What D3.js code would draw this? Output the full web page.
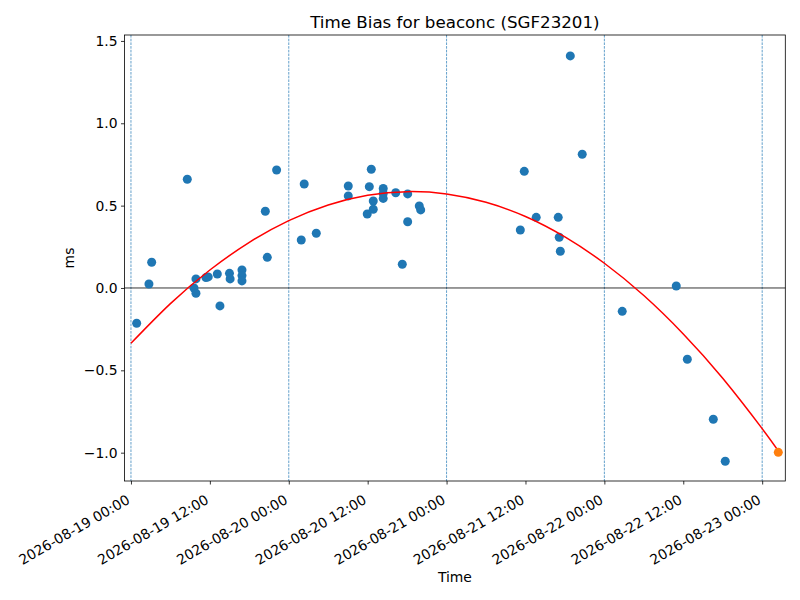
<!DOCTYPE html>
<html>
<head>
<meta charset="utf-8">
<script src="https://cdn.jsdelivr.net/npm/d3@7"></script>
<style>
  body { margin: 0; background: #fff; }
  text { font-family: "DejaVu Sans", sans-serif; }
</style>
</head>
<body>
<svg id="chart" width="800" height="600"></svg>
<script>
// measured offsets (ms) against time, UTC
var times = [
  "2026-08-19 00:52", "2026-08-19 02:44", "2026-08-19 03:09", "2026-08-19 08:34",
  "2026-08-19 09:53", "2026-08-19 09:35", "2026-08-19 09:53", "2026-08-19 11:24",
  "2026-08-19 11:45", "2026-08-19 13:08", "2026-08-19 13:32", "2026-08-19 14:59",
  "2026-08-19 15:05", "2026-08-19 16:53", "2026-08-19 16:53", "2026-08-19 16:53",
  "2026-08-19 20:26", "2026-08-19 20:44", "2026-08-19 22:09", "2026-08-20 01:54",
  "2026-08-20 02:21", "2026-08-20 04:11", "2026-08-20 09:03", "2026-08-20 09:03",
  "2026-08-20 11:56", "2026-08-20 12:15", "2026-08-20 12:33", "2026-08-20 12:51",
  "2026-08-20 12:51", "2026-08-20 14:22", "2026-08-20 14:22", "2026-08-20 14:22",
  "2026-08-20 16:16", "2026-08-20 17:16", "2026-08-20 18:05", "2026-08-20 18:05",
  "2026-08-20 19:51", "2026-08-20 20:04", "2026-08-21 11:13", "2026-08-21 11:49",
  "2026-08-21 13:38", "2026-08-21 16:59", "2026-08-21 17:08", "2026-08-21 17:18",
  "2026-08-21 18:49", "2026-08-21 20:38", "2026-08-22 02:43", "2026-08-22 10:56",
  "2026-08-22 12:37", "2026-08-22 16:34", "2026-08-22 18:23"
];
var bias = [
  -0.214, 0.024, 0.156, 0.660,
  0.055, 0.000, -0.032, 0.063,
  0.067, 0.085, -0.109, 0.089,
  0.055, 0.109, 0.075, 0.043,
  0.466, 0.186, 0.716, 0.291,
  0.631, 0.332, 0.619, 0.559,
  0.449, 0.615, 0.721, 0.528,
  0.478, 0.604, 0.574, 0.544,
  0.578, 0.144, 0.571, 0.402,
  0.498, 0.474, 0.352, 0.708,
  0.429, 0.429, 0.308, 0.223,
  1.409, 0.812, -0.142, 0.012,
  -0.433, -0.797, -1.052
];

// latest point (orange)
var lastTime = "2026-08-23 02:27";
var lastBias = -0.998;

// fitted curve
var fitTimes = [
  "2026-08-19 00:00", "2026-08-19 06:00", "2026-08-19 12:00", "2026-08-19 18:00",
  "2026-08-20 00:00", "2026-08-20 06:00", "2026-08-20 12:00", "2026-08-20 18:00",
  "2026-08-21 00:00", "2026-08-21 06:00", "2026-08-21 12:00", "2026-08-21 18:00",
  "2026-08-22 00:00", "2026-08-22 06:00", "2026-08-22 12:00", "2026-08-22 18:00",
  "2026-08-23 00:00", "2026-08-23 02:27"
];
var fitBias = [
  -0.336, -0.095, 0.109, 0.277,
  0.409, 0.504, 0.563, 0.585,
  0.571, 0.520, 0.434, 0.310,
  0.150, -0.046, -0.279, -0.548,
  -0.854, -0.989
];

var dayLines = ["2026-08-19 00:00", "2026-08-20 00:00", "2026-08-21 00:00", "2026-08-22 00:00", "2026-08-23 00:00"];
var yTicks = [-1.0, -0.5, 0.0, 0.5, 1.0, 1.5];
var xDomain = ["2026-08-18 23:01", "2026-08-23 03:31"];
var yDomain = [-1.172, 1.536];

var parse = d3.utcParse("%Y-%m-%d %H:%M");
var fmt = d3.utcFormat("%Y-%m-%d %H:%M");

var margins = {top: 35, right: 14.7, bottom: 119, left: 124.5},
    W = 800, H = 600,
    width = W - margins.left - margins.right,
    height = H - margins.top - margins.bottom;

var svg = d3.select('#chart');

var xScale = d3.scaleUtc()
    .domain(xDomain.map(parse))
    .range([margins.left, margins.left + width]);

var yScale = d3.scaleLinear()
    .domain(yDomain)
    .range([margins.top + height, margins.top]);

// vertical dashed lines at midnight
svg.append('g').selectAll('line')
    .data(dayLines.map(parse))
    .enter()
    .append('line')
        .attr('x1', d => xScale(d))
        .attr('x2', d => xScale(d))
        .attr('y1', margins.top)
        .attr('y2', margins.top + height)
        .style('stroke', '#1f77b4')
        .style('stroke-width', 0.7)
        .style('stroke-dasharray', '2.6,1.1');

// zero line
svg.append('line')
    .attr('x1', margins.left)
    .attr('x2', margins.left + width)
    .attr('y1', yScale(0))
    .attr('y2', yScale(0))
    .style('stroke', 'black')
    .style('stroke-width', 0.8);

var points = times.map((t, i) => ({t: parse(t), v: bias[i]}));
svg.append('g').selectAll('circle')
    .data(points)
    .enter()
    .append('circle')
        .attr('cx', d => xScale(d.t))
        .attr('cy', d => yScale(d.v))
        .attr('r', 4.5)
        .style('fill', '#1f77b4');

var fit = fitTimes.map((t, i) => ({t: parse(t), v: fitBias[i]}));
var line = d3.line()
    .x(d => xScale(d.t))
    .y(d => yScale(d.v))
    .curve(d3.curveNatural);

svg.append('path')
    .datum(fit)
    .attr('d', line)
    .style('fill', 'none')
    .style('stroke', 'red')
    .style('stroke-width', 1.5);

svg.append('circle')
    .attr('cx', xScale(parse(lastTime)))
    .attr('cy', yScale(lastBias))
    .attr('r', 4.5)
    .style('fill', '#ff7f0e');

// axes
var xaxis = svg.append('g')
    .attr('transform', 'translate(0,' + (margins.top + height) + ')')
    .call(d3.axisBottom(xScale)
        .ticks(d3.utcHour.every(12))
        .tickFormat(fmt)
        .tickSize(3.5)
        .tickSizeOuter(0));
xaxis.select('.domain').remove();
xaxis.selectAll('line').style('stroke', 'black').style('stroke-width', 0.8);
xaxis.selectAll('text')
    .style('font-size', '13.9px')
    .style('fill', 'black')
    .style('text-anchor', 'end')
    .attr('y', 0)
    .attr('dy', '-0.24em')
    .attr('transform', 'translate(1,24.5) rotate(-30)');

var yaxis = svg.append('g')
    .attr('transform', 'translate(' + margins.left + ',0)')
    .call(d3.axisLeft(yScale)
        .tickValues(yTicks)
        .tickFormat(d3.format('.1f'))
        .tickSize(3.5)
        .tickPadding(3.5));
yaxis.select('.domain').remove();
yaxis.selectAll('line').style('stroke', 'black').style('stroke-width', 0.8);
yaxis.selectAll('text')
    .style('font-size', '13.9px')
    .style('fill', 'black');

// frame
svg.append('rect')
    .attr('x', margins.left)
    .attr('y', margins.top)
    .attr('width', width)
    .attr('height', height)
    .style('fill', 'none')
    .style('stroke', 'black')
    .style('stroke-width', 0.8);

svg.append('text')
    .attr('x', margins.left + width / 2)
    .attr('y', 28)
    .attr('text-anchor', 'middle')
    .style('font-size', '16.7px')
    .text('Time Bias for beaconc (SGF23201)');

svg.append('text')
    .attr('x', margins.left + width / 2)
    .attr('y', 582)
    .attr('text-anchor', 'middle')
    .style('font-size', '13.9px')
    .text('Time');

svg.append('text')
    .attr('transform', 'translate(74,' + (margins.top + height / 2) + ') rotate(-90)')
    .attr('text-anchor', 'middle')
    .style('font-size', '13.9px')
    .text('ms');
</script>
</body>
</html>
